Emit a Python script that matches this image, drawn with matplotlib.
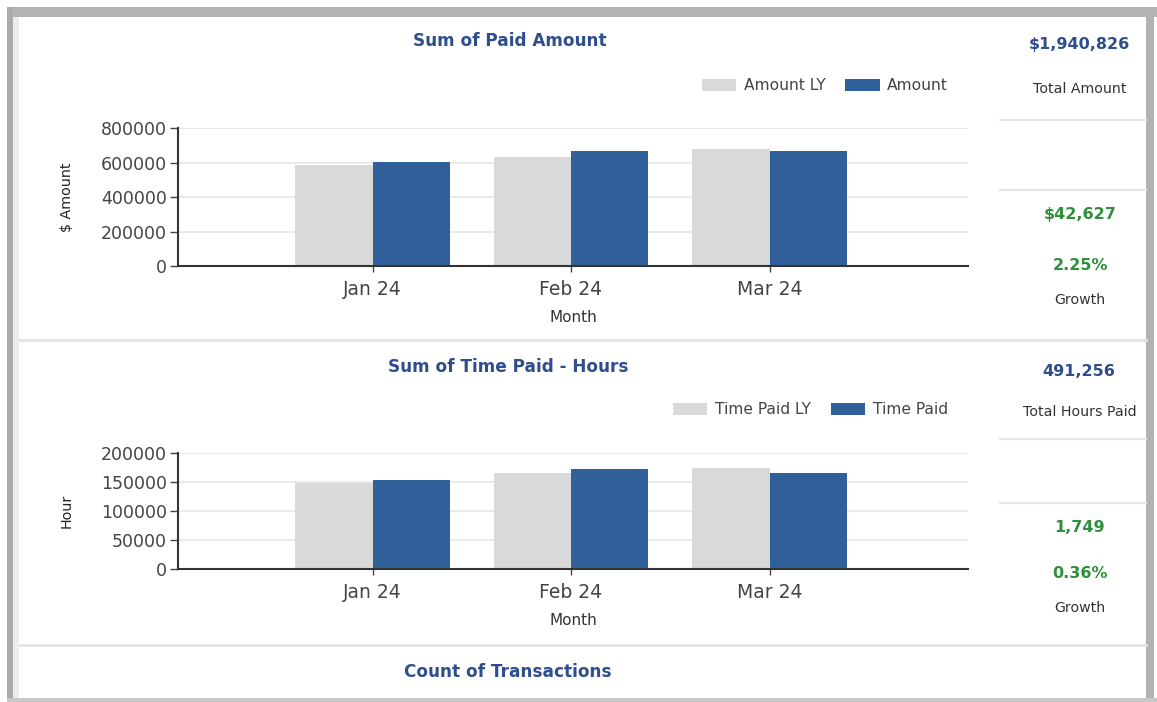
"""Dashboard panel: paid amount and time paid, this year vs last year."""
import matplotlib
matplotlib.use("Agg")
import matplotlib.pyplot as plt
from matplotlib.patches import Rectangle

plt.rcParams["font.family"] = ["DejaVu Sans"]

W, H = 1157, 702
BLUE, LY_GRAY, TITLE, GREEN, TXT = "#30609A", "#D9D9D9", "#2E4E8C", "#2F8F3A", "#333333"

months = ["Jan 24", "Feb 24", "Mar 24"]
amount_ly = [588000, 630000, 680199]
amount = [604000, 669000, 667826]
hours_ly = [149000, 166000, 174507]
hours = [153000, 172000, 166256]

# right-hand KPI column
kpi_amount = ["$1,940,826", "Total Amount", "$42,627", "2.25%", "Growth"]
kpi_hours = ["491,256", "Total Hours Paid", "1,749", "0.36%", "Growth"]

fig = plt.figure(figsize=(W / 100, H / 100), dpi=100)
fig.patch.set_facecolor("white")

# background axes in pixel coords for frame, dividers and text
bg = fig.add_axes([0, 0, 1, 1], zorder=-5)
bg.set_xlim(0, W)
bg.set_ylim(H, 0)
bg.axis("off")
bg.add_patch(Rectangle((7, 7), W - 7, 10, color="#B3B3B3", lw=0))
bg.add_patch(Rectangle((7, 7), 6, H - 7, color="#ABABAB", lw=0))
bg.add_patch(Rectangle((13, 17), 6, H - 20, color="#ECECEC", lw=0))
bg.add_patch(Rectangle((1146, 7), 8, H - 7, color="#B3B3B3", lw=0))
bg.add_patch(Rectangle((7, 698), W - 7, 4, color="#C8C8C8", lw=0))
for y in (340, 645):
    bg.plot([20, 1146], [y, y], color="#E2E2E2", lw=2)
for y in (120, 190, 439, 503):
    bg.plot([1000, 1146], [y, y], color="#E6E6E6", lw=1.5)


def kpi(texts, ys):
    big = dict(ha="center", va="center", fontsize=11.5, fontweight="bold")
    small = dict(ha="center", va="center", fontsize=10.2, color=TXT)
    bg.text(1079, ys[0], texts[0], color=TITLE, **big)
    bg.text(1080, ys[1], texts[1], **small)
    bg.text(1080, ys[2], texts[2], color=GREEN, **big)
    bg.text(1080, ys[3], texts[3], color=GREEN, **big)
    bg.text(1080, ys[4], texts[4], **small)


kpi(kpi_amount, [45, 89, 214, 265, 300])
kpi(kpi_hours, [371, 412, 527, 574, 608])

ttl = dict(ha="center", va="center", fontsize=12.2, fontweight="bold", color=TITLE)
bg.text(510, 41, "Sum of Paid Amount", **ttl)
bg.text(508, 367, "Sum of Time Paid - Hours", **ttl)
bg.text(508, 672, "Count of Transactions", **ttl)


def bar_panel(top, bottom, ly, cur, ymax, step, ylabel, labels, leg_y):
    ax = fig.add_axes([178 / W, 1 - bottom / H, 790 / W, (bottom - top) / H])
    x = list(range(len(months)))
    w = 0.39
    ax.bar([i - w / 2 for i in x], ly, w, color=LY_GRAY, label=labels[0], zorder=2)
    ax.bar([i + w / 2 for i in x], cur, w, color=BLUE, label=labels[1], zorder=2)
    ax.set_xlim(-0.98, 3.0)
    ax.set_ylim(0, ymax)
    ax.set_yticks(range(0, ymax + 1, step))
    ax.set_xticks(x)
    ax.set_xticklabels(months)
    ax.grid(axis="y", color="#E6E6E6", lw=1.2, zorder=0)
    ax.set_axisbelow(True)
    for s in ("top", "right"):
        ax.spines[s].set_visible(False)
    for s in ("left", "bottom"):
        ax.spines[s].set_color("#333333")
        ax.spines[s].set_linewidth(1.5)
        ax.spines[s].set_zorder(3)
    ax.tick_params(axis="y", length=6, width=1, color="#444444",
                   labelsize=12.5, labelcolor="#444444", pad=2)
    ax.tick_params(axis="x", length=4, width=1, color="#444444",
                   labelsize=13.5, labelcolor="#444444", pad=6)
    ax.set_xlabel("Month", fontsize=11, color=TXT, labelpad=8)
    ax.set_ylabel(ylabel, fontsize=10.3, color="#222222")
    ax.yaxis.set_label_coords((74 - 178) / 790, 0.5)
    ax.legend(loc="center right", bbox_to_anchor=(956 / W, 1 - leg_y / H),
              bbox_transform=fig.transFigure, ncol=2, frameon=False,
              fontsize=11.2, handlelength=2.2, handleheight=0.75,
              handletextpad=0.5, columnspacing=1.3, borderpad=0,
              labelcolor="#444444")
    return ax


bar_panel(128, 266, amount_ly, amount, 800000, 200000, "$ Amount",
          ["Amount LY", "Amount"], 86)
bar_panel(453, 569, hours_ly, hours, 200000, 50000, "Hour",
          ["Time Paid LY", "Time Paid"], 410)

fig.savefig("out.png", dpi=100)
